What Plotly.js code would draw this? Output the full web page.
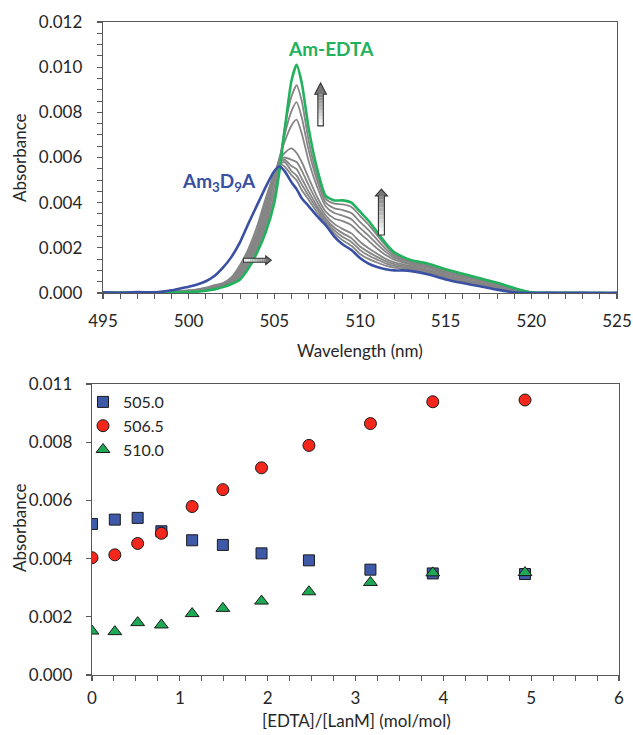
<!DOCTYPE html>
<html>
<head>
<meta charset="utf-8">
<script src="https://cdn.plot.ly/plotly-3.0.1.min.js"></script>
<style>
  html, body { margin: 0; padding: 0; background: #ffffff; }
  #chart { width: 633px; height: 735px; }
</style>
</head>
<body>
<div id="chart"></div>
<script>
// ---------- Top panel: absorption spectra ----------
const wavelength = [495, 496, 497, 498, 498.5, 499, 499.5, 500, 500.5, 501, 501.5, 502, 502.5, 503, 503.5, 504, 504.5, 505, 505.3, 505.6, 506, 506.3, 506.6, 507, 507.5, 508, 508.5, 509, 509.5, 510, 510.5, 511, 511.5, 512, 512.5, 513, 514, 515, 516, 517, 518, 519, 520, 521, 522, 523, 524, 525];

const absAm3D9A = [0.00003, 0.00001, 0.00004, 0.00003, 0.00006, 0.00012, 0.0002, 0.00028, 0.00038, 0.00052, 0.00075, 0.00112, 0.0016, 0.00225, 0.0031, 0.0039, 0.0047, 0.0054, 0.0056, 0.0054, 0.0049, 0.0046, 0.0042, 0.00385, 0.0034, 0.0030, 0.0025, 0.00215, 0.0019, 0.00155, 0.0013, 0.00115, 0.00105, 0.0010, 0.0010, 0.00097, 0.00082, 0.0006, 0.00044, 0.0003, 0.00015, 0.00003, 0, 0.00001, 0, 0.00001, 0, 0.00001];

const absAmEDTA = [0, 0.00001, 0, 0.00001, 0.00001, 0.00002, 0.00003, 0.00004, 0.00006, 0.0001, 0.00016, 0.00026, 0.0004, 0.0006, 0.0011, 0.0018, 0.0027, 0.0040, 0.0054, 0.0072, 0.0094, 0.0101, 0.0093, 0.0073, 0.0055, 0.0043, 0.0041, 0.0041, 0.0040, 0.0036, 0.0032, 0.0027, 0.0022, 0.0018, 0.0016, 0.00145, 0.0013, 0.00105, 0.00085, 0.00065, 0.00045, 0.00022, 0.00003, 0, 0.00001, 0, 0, 0];

const absStep1 = [0, 0.00001, 0.00001, 0.00002, 0.00003, 0.00004, 0.00005, 0.00005, 0.00007, 0.00011, 0.00017, 0.00028, 0.00043, 0.00068, 0.00121, 0.00194, 0.00291, 0.00437, 0.0057, 0.0073, 0.0087, 0.0092, 0.0085, 0.00675, 0.0052, 0.00417, 0.00396, 0.00392, 0.00381, 0.00342, 0.00303, 0.00256, 0.0021, 0.00172, 0.00154, 0.0014, 0.00125, 0.001, 0.00081, 0.00062, 0.00042, 0.0002, 0.00003, 0, 0.00001, 0, 0, 0];
const absStep2 = [0, 0.00001, 0.00001, 0.00002, 0.00003, 0.00005, 0.00006, 0.00006, 0.00008, 0.00012, 0.00019, 0.0003, 0.00046, 0.00075, 0.00131, 0.00207, 0.00309, 0.0047, 0.0059, 0.0070, 0.00805, 0.00845, 0.00777, 0.00633, 0.00498, 0.0040, 0.00375, 0.00367, 0.00354, 0.00315, 0.00278, 0.00236, 0.00195, 0.00164, 0.00148, 0.00135, 0.0012, 0.00096, 0.00077, 0.00058, 0.00039, 0.00018, 0.00002, 0.00001, 0, 0.00001, 0, 0];
const absStep3 = [0.00001, 0.00001, 0.00002, 0.00002, 0.00003, 0.00005, 0.00006, 0.00007, 0.0001, 0.00014, 0.00021, 0.00032, 0.00049, 0.00082, 0.00141, 0.0022, 0.00327, 0.00503, 0.0060, 0.0067, 0.00742, 0.00768, 0.00706, 0.00585, 0.0047, 0.00383, 0.00354, 0.00342, 0.00327, 0.00288, 0.00254, 0.00216, 0.00182, 0.00156, 0.00142, 0.0013, 0.00116, 0.00092, 0.00073, 0.00055, 0.00036, 0.00016, 0.00002, 0, 0.00001, 0, 0.00001, 0];
const absStep4 = [0.00001, 0.00001, 0.00002, 0.00003, 0.00004, 0.00005, 0.00007, 0.00008, 0.00011, 0.00016, 0.00023, 0.00034, 0.00052, 0.0009, 0.00152, 0.00234, 0.00348, 0.0051, 0.0059, 0.0062, 0.0064, 0.0062, 0.0058, 0.0051, 0.00425, 0.0036, 0.0033, 0.00318, 0.0030, 0.00264, 0.00231, 0.00197, 0.00168, 0.00148, 0.00136, 0.00126, 0.00111, 0.00087, 0.00069, 0.00051, 0.00033, 0.00014, 0.00002, 0.00001, 0, 0, 0.00001, 0];
const absStep5 = [0.00001, 0.00002, 0.00002, 0.00003, 0.00004, 0.00006, 0.00008, 0.00009, 0.00012, 0.00018, 0.00026, 0.00037, 0.00055, 0.00098, 0.00163, 0.00248, 0.00369, 0.0051, 0.0059, 0.0060, 0.0059, 0.0058, 0.00542, 0.00478, 0.00403, 0.00343, 0.00306, 0.00283, 0.00264, 0.00227, 0.00198, 0.00174, 0.00151, 0.00136, 0.00127, 0.00119, 0.00104, 0.0008, 0.00062, 0.00046, 0.00029, 0.00012, 0.00001, 0, 0.00001, 0, 0, 0.00001];
const absStep6 = [0.00001, 0.00002, 0.00003, 0.00003, 0.00005, 0.00007, 0.00008, 0.0001, 0.00013, 0.0002, 0.00029, 0.00039, 0.00058, 0.00105, 0.00173, 0.00261, 0.00387, 0.0052, 0.0058, 0.0059, 0.00562, 0.00548, 0.00507, 0.0045, 0.00384, 0.0033, 0.0029, 0.00264, 0.00243, 0.00206, 0.00181, 0.0016, 0.00141, 0.00128, 0.00121, 0.00114, 0.00099, 0.00076, 0.00058, 0.00042, 0.00026, 0.0001, 0.00001, 0, 0, 0.00001, 0, 0];
const absStep7 = [0.00002, 0.00002, 0.00003, 0.00004, 0.00005, 0.00007, 0.00009, 0.00011, 0.00015, 0.00022, 0.00032, 0.00041, 0.00062, 0.00113, 0.00184, 0.00275, 0.0041, 0.0053, 0.0057, 0.0058, 0.0054, 0.0052, 0.00481, 0.0043, 0.00372, 0.00321, 0.00277, 0.00248, 0.00226, 0.0019, 0.00166, 0.00148, 0.00131, 0.0012, 0.00115, 0.00109, 0.00094, 0.00071, 0.00054, 0.00039, 0.00023, 0.00008, 0.00001, 0.00001, 0, 0, 0, 0];
const absStep8 = [0.00002, 0.00002, 0.00003, 0.00004, 0.00006, 0.00008, 0.0001, 0.00012, 0.00016, 0.00024, 0.00035, 0.00044, 0.0007, 0.00124, 0.00198, 0.00296, 0.0042, 0.0053, 0.0057, 0.0056, 0.00522, 0.00499, 0.00456, 0.00413, 0.00357, 0.00312, 0.00264, 0.00233, 0.00209, 0.00173, 0.00151, 0.00135, 0.00121, 0.00112, 0.00109, 0.00104, 0.00089, 0.00067, 0.0005, 0.00035, 0.0002, 0.00006, 0, 0.00001, 0, 0, 0.00001, 0];
const graySteps = [absStep1, absStep2, absStep3, absStep4, absStep5, absStep6, absStep7, absStep8];

// ---------- Bottom panel: titration ----------
const ratio = [0, 0.26, 0.52, 0.79, 1.14, 1.49, 1.93, 2.47, 3.17, 3.88, 4.93];
const abs505_0 = [0.00519, 0.00534, 0.00540, 0.00494, 0.00463, 0.00447, 0.00418, 0.00394, 0.00362, 0.00349, 0.00347];
const abs506_5 = [0.00403, 0.00413, 0.00452, 0.00487, 0.00579, 0.00637, 0.00712, 0.00789, 0.00864, 0.00939, 0.00945];
const abs510_0 = [0.00151, 0.00149, 0.00180, 0.00172, 0.00211, 0.00229, 0.00254, 0.00286, 0.00318, 0.00351, 0.00352];
const seriesNames = ['505.0', '506.5', '510.0'];

const yTicks2 = [0, 0.002, 0.004, 0.006, 0.008, 0.010];
const yTickText2 = ['0.000', '0.002', '0.004', '0.006', '0.008', '0.011'];

// ---------- styling ----------
const FONT = 'Lato, "Open Sans", sans-serif';
const TXT = '#262626';
const AX = '#595959';
const BLUE = '#3A50A3';
const GREEN = '#22B25E';

const traces = [];
graySteps.forEach(s => {
  traces.push({x: wavelength, y: s, xaxis: 'x', yaxis: 'y', type: 'scatter', mode: 'lines',
    line: {color: '#858585', width: 1.8, shape: 'spline', smoothing: 0.6}, showlegend: false, hoverinfo: 'skip'});
});
traces.push({x: wavelength, y: absAmEDTA, xaxis: 'x', yaxis: 'y', type: 'scatter', mode: 'lines',
  line: {color: GREEN, width: 2.6, shape: 'spline', smoothing: 0.6}, showlegend: false, hoverinfo: 'skip'});
traces.push({x: wavelength, y: absAm3D9A, xaxis: 'x', yaxis: 'y', type: 'scatter', mode: 'lines',
  line: {color: BLUE, width: 2.6, shape: 'spline', smoothing: 0.6}, showlegend: false, hoverinfo: 'skip'});

traces.push({x: ratio, y: abs505_0, name: seriesNames[0], xaxis: 'x2', yaxis: 'y2', type: 'scatter', mode: 'markers',
  marker: {symbol: 'square', size: 11, color: '#3D59A8', line: {color: '#1a1a1a', width: 1}}});
traces.push({x: ratio, y: abs506_5, name: seriesNames[1], xaxis: 'x2', yaxis: 'y2', type: 'scatter', mode: 'markers',
  marker: {symbol: 'circle', size: 12, color: '#F4271C', line: {color: '#1a1a1a', width: 1}}});
traces.push({x: ratio, y: abs510_0, name: seriesNames[2], xaxis: 'x2', yaxis: 'y2', type: 'scatter', mode: 'markers',
  marker: {symbol: 'triangle-up', size: 12, color: '#1EA954', line: {color: '#1a1a1a', width: 1}}});

// ---------- block arrows (decorations) ----------
function mix(t) { // t=0 white, t=1 gray
  const c = Math.round(255 - t * (255 - 110));
  return 'rgb(' + c + ',' + c + ',' + c + ')';
}
function vArrow(cx, sw, hw, yTip, yHead, yBot) {
  const out = [];
  const n = 10;
  for (let i = 0; i < n; i++) {
    const y0 = yBot + (yHead - yBot) * i / n, y1 = yBot + (yHead - yBot) * (i + 1) / n;
    out.push({type: 'rect', xref: 'x', yref: 'y', x0: cx - sw, x1: cx + sw, y0: y0, y1: y1,
      fillcolor: mix((i + 0.5) / n * 0.85), line: {width: 0}, layer: 'above'});
  }
  out.push({type: 'path', xref: 'x', yref: 'y', layer: 'above',
    path: `M ${cx - hw} ${yHead} L ${cx} ${yTip} L ${cx + hw} ${yHead} Z`,
    fillcolor: mix(0.95), line: {width: 0}});
  out.push({type: 'path', xref: 'x', yref: 'y', layer: 'above',
    path: `M ${cx - sw} ${yBot} L ${cx - sw} ${yHead} L ${cx - hw} ${yHead} L ${cx} ${yTip} L ${cx + hw} ${yHead} L ${cx + sw} ${yHead} L ${cx + sw} ${yBot} Z`,
    fillcolor: 'rgba(0,0,0,0)', line: {color: '#333333', width: 1.1}});
  return out;
}
function hArrow(xL, xHead, xTip, yc, sh, hh) {
  const out = [];
  const n = 10;
  for (let i = 0; i < n; i++) {
    const x0 = xL + (xHead - xL) * i / n, x1 = xL + (xHead - xL) * (i + 1) / n;
    out.push({type: 'rect', xref: 'x', yref: 'y', x0: x0, x1: x1, y0: yc - sh, y1: yc + sh,
      fillcolor: mix((i + 0.5) / n * 0.85), line: {width: 0}, layer: 'above'});
  }
  out.push({type: 'path', xref: 'x', yref: 'y', layer: 'above',
    path: `M ${xHead} ${yc - hh} L ${xTip} ${yc} L ${xHead} ${yc + hh} Z`,
    fillcolor: mix(0.95), line: {width: 0}});
  out.push({type: 'path', xref: 'x', yref: 'y', layer: 'above',
    path: `M ${xL} ${yc - sh} L ${xHead} ${yc - sh} L ${xHead} ${yc - hh} L ${xTip} ${yc} L ${xHead} ${yc + hh} L ${xHead} ${yc + sh} L ${xL} ${yc + sh} Z`,
    fillcolor: 'rgba(0,0,0,0)', line: {color: '#333333', width: 1.1}});
  return out;
}
const shapes = [].concat(
  vArrow(507.7, 0.16, 0.34, 0.0093, 0.0088, 0.0074),
  vArrow(511.25, 0.175, 0.35, 0.0046, 0.0043, 0.00257),
  hArrow(503.2, 504.5, 504.82, 0.00145, 0.00009, 0.00019)
);

const W = 633, H = 735;
function px(x) { return x / W; }
function py(y) { return 1 - y / H; }

const axisBase = {
  showline: true, linecolor: AX, linewidth: 1.3, mirror: true,
  ticks: 'outside', ticklen: 5, tickwidth: 1.2, tickcolor: AX,
  showgrid: false, zeroline: false,
  tickfont: {family: FONT, size: 17, color: TXT}
};

const layout = {
  width: W, height: H,
  margin: {l: 0, r: 0, t: 0, b: 0},
  paper_bgcolor: '#ffffff', plot_bgcolor: '#ffffff',
  showlegend: true,
  hovermode: false,
  xaxis: Object.assign({}, axisBase, {
    domain: [px(103), px(617)], anchor: 'y', range: [495, 525], dtick: 5, tick0: 495,
    ticklabelstandoff: 7,
    minor: {ticks: 'outside', ticklen: 5, tickcolor: AX, tickwidth: 1, dtick: 1, showgrid: false}
  }),
  yaxis: Object.assign({}, axisBase, {
    domain: [py(293), py(22)], anchor: 'x', range: [0, 0.012], dtick: 0.002, tick0: 0,
    tickformat: '.3f', ticklabelstandoff: 11,
    minor: {ticks: 'outside', ticklen: 5, tickcolor: AX, tickwidth: 1, dtick: 0.0005, showgrid: false}
  }),
  xaxis2: Object.assign({}, axisBase, {
    domain: [px(92), px(619)], anchor: 'y2', range: [0, 6], dtick: 1, tick0: 0,
    ticklabelstandoff: 2,
    minor: {ticks: 'outside', ticklen: 5, tickcolor: AX, tickwidth: 1, dtick: 0.25, showgrid: false}
  }),
  yaxis2: Object.assign({}, axisBase, {
    domain: [py(675), py(384)], anchor: 'x2', range: [0, 0.010],
    tickmode: 'array', tickvals: yTicks2, ticktext: yTickText2, ticklabelstandoff: 10
  }),
  legend: {
    x: px(83), y: py(385), xanchor: 'left', yanchor: 'top',
    bgcolor: 'rgba(0,0,0,0)', borderwidth: 0,
    font: {family: FONT, size: 16, color: TXT},
    itemwidth: 30, tracegroupgap: 0
  },
  shapes: shapes,
  annotations: [
    {text: 'Absorbance', xref: 'paper', yref: 'paper', x: px(19), y: py(158), textangle: -90,
      showarrow: false, xanchor: 'center', yanchor: 'middle', font: {family: FONT, size: 17, color: TXT}},
    {text: 'Wavelength (nm)', xref: 'paper', yref: 'paper', x: px(360), y: py(350),
      showarrow: false, xanchor: 'center', yanchor: 'middle', font: {family: FONT, size: 17, color: TXT}},
    {text: 'Absorbance', xref: 'paper', yref: 'paper', x: px(19), y: py(528), textangle: -90,
      showarrow: false, xanchor: 'center', yanchor: 'middle', font: {family: FONT, size: 17, color: TXT}},
    {text: '[EDTA]/[LanM] (mol/mol)', xref: 'paper', yref: 'paper', x: px(356), y: py(720),
      showarrow: false, xanchor: 'center', yanchor: 'middle', font: {family: FONT, size: 17, color: TXT}},
    {text: '<b>Am-EDTA</b>', xref: 'paper', yref: 'paper', x: px(331), y: py(49),
      showarrow: false, xanchor: 'center', yanchor: 'middle', font: {family: FONT, size: 19, color: GREEN}},
    {text: '<b>Am<sub>3</sub>D<sub>9</sub>A</b>', xref: 'paper', yref: 'paper', x: px(258), y: py(182),
      showarrow: false, xanchor: 'right', yanchor: 'middle', font: {family: FONT, size: 19, color: BLUE}}
  ]
};

Plotly.newPlot('chart', traces, layout, {displayModeBar: false, staticPlot: true});
</script>
</body>
</html>
